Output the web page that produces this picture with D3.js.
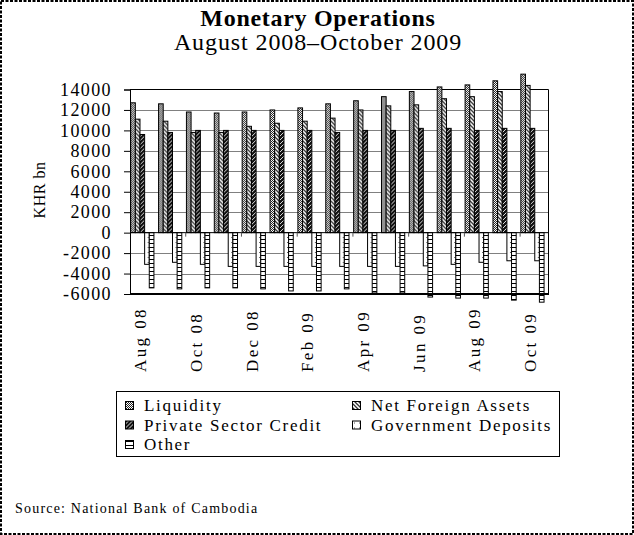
<!DOCTYPE html>
<html>
<head>
<meta charset="utf-8">
<script src="https://cdn.jsdelivr.net/npm/d3@7"></script>
<style>
  body { margin: 0; background: #fff; }
  svg { display: block; font-family: "Liberation Serif", "Times New Roman", serif; }
</style>
</head>
<body>
<svg width="634" height="535"></svg>
<script>
// chart values
const months = ['Aug 08', 'Sep 08', 'Oct 08', 'Nov 08', 'Dec 08', 'Jan 09', 'Feb 09', 'Mar 09',
  'Apr 09', 'May 09', 'Jun 09', 'Jul 09', 'Aug 09', 'Sep 09', 'Oct 09'];
const liquidity = [12700, 12600, 11800, 11700, 11800, 12000, 12200, 12600, 12900, 13300, 13800, 14250, 14450, 14850, 15500];
const netForeignAssets = [11100, 10900, 9800, 9800, 10400, 10700, 10900, 11200, 12000, 12400, 12500, 13100, 13300, 13800, 14400];
const privateSectorCredit = [9600, 9800, 10000, 10000, 10000, 10000, 10000, 9800, 10000, 10000, 10200, 10200, 10000, 10200, 10200];
const governmentDeposits = [-3100, -2900, -3100, -3300, -3300, -3300, -3300, -3300, -3300, -3300, -3250, -3100, -2900, -2750, -2750];
const other = [-5400, -5500, -5400, -5400, -5500, -5700, -5700, -5500, -5900, -5900, -6300, -6400, -6400, -6600, -6800];
const seriesNames = ['Liquidity', 'Net Foreign Assets', 'Private Sector Credit', 'Government Deposits', 'Other'];
const yTicks = [-6000, -4000, -2000, 0, 2000, 4000, 6000, 8000, 10000, 12000, 14000];
const monthLabels = ['Aug 08', 'Oct 08', 'Dec 08', 'Feb 09', 'Apr 09', 'Jun 09', 'Aug 09', 'Oct 09'];

const seriesValues = [liquidity, netForeignAssets, privateSectorCredit, governmentDeposits, other];
const patternIds = ['pLiq', 'pNfa', 'pPsc', 'pGov', 'pOth'];

const svg = d3.select('svg');
const W = +svg.attr('width');
const H = +svg.attr('height');
const plot = { left: 130, right: 548, top: 89.5, bottom: 294 };

// fill patterns, like the old Excel black & white ones
const defs = svg.append('defs');
function pattern(id, size, bg) {
  const p = defs.append('pattern').attr('id', id)
    .attr('patternUnits', 'userSpaceOnUse').attr('width', size).attr('height', size);
  p.append('rect').attr('width', size).attr('height', size).attr('fill', bg);
  return p;
}
let p = pattern('pLiq', 2, '#fff');
p.append('rect').attr('x', 0).attr('y', 0).attr('width', 1).attr('height', 1).attr('fill', '#222');
p.append('rect').attr('x', 1).attr('y', 1).attr('width', 1).attr('height', 1).attr('fill', '#222');
p = pattern('pNfa', 4, '#fff');
p.append('path').attr('d', 'M-1,-1L5,5M-1,3L1,5M3,-1L5,1').attr('stroke', '#333').attr('stroke-width', 1.3);
p = pattern('pPsc', 4, '#111');
[[0, 1], [1, 0], [2, 3], [3, 2]].forEach(([a, b]) =>
  p.append('rect').attr('x', a).attr('y', b).attr('width', 1).attr('height', 1).attr('fill', '#ddd'));
p = pattern('pGov', 5, '#fff');
p.append('rect').attr('x', 2).attr('y', 2).attr('width', 1).attr('height', 1).attr('fill', '#555');
p = pattern('pOth', 4, '#fff');
p.append('rect').attr('x', 0).attr('y', 3).attr('width', 4).attr('height', 1).attr('fill', '#000');

// outer dashed frame
svg.append('rect')
  .attr('x', 1).attr('y', 1).attr('width', W - 2).attr('height', H - 2)
  .attr('fill', 'none').attr('stroke', '#000').attr('stroke-width', 2)
  .attr('stroke-dasharray', '3,1.5');

// titles
svg.append('text').attr('x', 318).attr('y', 26).attr('text-anchor', 'middle')
  .attr('font-size', 24).attr('font-weight', 'bold').attr('letter-spacing', 0.7)
  .text('Monetary Operations');
svg.append('text').attr('x', 318).attr('y', 50).attr('text-anchor', 'middle')
  .attr('font-size', 24).attr('letter-spacing', 0.9)
  .text('August 2008\u2013October 2009');

const x = d3.scaleBand()
  .domain(months)
  .range([plot.left, plot.right])
  .paddingInner(1 / 6)
  .paddingOuter(1 / 12)
  .align(0.15);

const xs = d3.scaleBand()
  .domain(seriesNames)
  .range([0, x.bandwidth()]);

const y = d3.scaleLinear()
  .domain([yTicks[0], yTicks[yTicks.length - 1]])
  .range([plot.bottom, plot.top]);

// gridlines
svg.append('g')
  .selectAll('line')
  .data(yTicks.filter(t => t !== 0 && t !== yTicks[yTicks.length - 1] && t !== yTicks[0]))
  .enter().append('line')
  .attr('x1', plot.left).attr('x2', plot.right)
  .attr('y1', d => Math.round(y(d)) + 0.5).attr('y2', d => Math.round(y(d)) + 0.5)
  .attr('stroke', '#808080');

// plot frame (top and right)
svg.append('path')
  .attr('d', `M${plot.left},${plot.top}H${plot.right + 0.5}V${plot.bottom}`)
  .attr('fill', 'none').attr('stroke', '#000');

// bars
const groups = svg.append('g').selectAll('g')
  .data(months)
  .enter().append('g')
  .attr('transform', d => `translate(${x(d)},0)`);

groups.selectAll('rect')
  .data((m, i) => seriesNames.map((s, k) => ({ s, k, v: seriesValues[k][i] })))
  .enter().append('rect')
  .attr('x', d => xs(d.s))
  .attr('width', xs.bandwidth())
  .attr('y', d => Math.min(y(d.v), y(0)))
  .attr('height', d => Math.abs(y(d.v) - y(0)))
  .attr('fill', d => `url(#${patternIds[d.k]})`)
  .attr('stroke', '#000')
  .attr('stroke-width', 1);

// bottom edge of the plot
svg.append('line')
  .attr('x1', plot.left).attr('x2', plot.right + 1)
  .attr('y1', plot.bottom).attr('y2', plot.bottom)
  .attr('stroke', '#000').attr('stroke-width', 2);

// category axis through zero, ticks every two months
svg.append('line')
  .attr('x1', plot.left).attr('x2', plot.right)
  .attr('y1', y(0)).attr('y2', y(0))
  .attr('stroke', '#000');
svg.append('g').selectAll('line')
  .data(d3.range(2, months.length, 2))
  .enter().append('line')
  .attr('x1', i => plot.left + i * x.step()).attr('x2', i => plot.left + i * x.step())
  .attr('y1', y(0)).attr('y2', y(0) + 4)
  .attr('stroke', '#555');

// month labels, set low along the bottom
svg.append('g').selectAll('text')
  .data(monthLabels)
  .enter().append('text')
  .attr('transform', d => `translate(${x(d) + x.bandwidth() / 2},372) rotate(-90)`)
  .attr('dy', '0.22em')
  .attr('font-size', 17)
  .attr('letter-spacing', 2.4)
  .text(d => d);

// value axis (plain hyphen for negatives, as in the original)
const yAxis = svg.append('g')
  .attr('transform', `translate(${plot.left},0)`)
  .call(d3.axisLeft(y).tickValues(yTicks).tickSize(6).tickPadding(12).tickFormat(d => String(d)));
yAxis.select('.domain').attr('stroke', '#000');
yAxis.selectAll('text')
  .attr('font-family', '"Liberation Serif", serif')
  .attr('font-size', 18)
  .attr('letter-spacing', 1.4)
  .attr('fill', '#000');

svg.append('text')
  .attr('transform', 'translate(40,190) rotate(-90)')
  .attr('text-anchor', 'middle')
  .attr('dy', '0.34em')
  .attr('font-size', 16)
  .attr('letter-spacing', 0.5)
  .text('KHR bn');

// legend
const legend = svg.append('g');
legend.append('rect')
  .attr('x', 116.5).attr('y', 391.5).attr('width', 443).attr('height', 65)
  .attr('fill', '#fff').attr('stroke', '#000');
const legendPos = [[125, 411], [352, 411], [125, 430.5], [352, 430.5], [125, 450]];
const items = legend.selectAll('g.item')
  .data(seriesNames)
  .enter().append('g')
  .attr('class', 'item')
  .attr('transform', (d, i) => `translate(${legendPos[i][0]},${legendPos[i][1]})`);
items.append('rect')
  .attr('x', 0.5).attr('y', -9.5).attr('width', 8).attr('height', 8)
  .attr('fill', (d, i) => `url(#${patternIds[i]})`)
  .attr('stroke', '#000');
items.append('text')
  .attr('x', 19)
  .attr('font-size', 17)
  .attr('letter-spacing', 1.7)
  .text(d => d);

// source note
svg.append('text')
  .attr('x', 15).attr('y', 513)
  .attr('font-size', 14)
  .attr('letter-spacing', 1.2)
  .text('Source: National Bank of Cambodia');
</script>
</body>
</html>
